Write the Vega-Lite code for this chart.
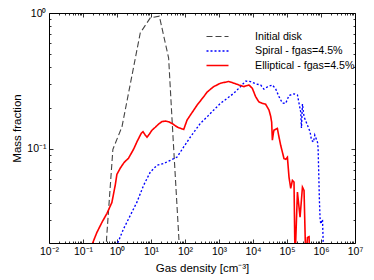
{
  "$schema": "https://vega.github.io/schema/vega-lite/v6.json",
  "width": 306,
  "height": 230,
  "autosize": "none",
  "padding": {"left": 49, "top": 13, "right": 19, "bottom": 37},
  "config": {
    "view": {"stroke": "black", "strokeWidth": 1},
    "font": "Liberation Sans",
    "axis": {"domain": false, "grid": false, "tickColor": "black", "labelColor": "black", "titleColor": "black", "labelFont": "Liberation Sans", "titleFont": "Liberation Sans", "titleFontWeight": "normal", "labelFontSize": 10.5, "titleFontSize": 11.5, "labelOverlap": false, "labelFlush": false, "labelBound": false, "tickWidth": 0.8}
  },
  "datasets": {
    "curves": [
      {"series": "Initial disk", "density": 0.474, "fraction": 0.0177},
      {"series": "Initial disk", "density": 0.50, "fraction": 0.0229},
      {"series": "Initial disk", "density": 0.757, "fraction": 0.099},
      {"series": "Initial disk", "density": 1.40, "fraction": 0.145},
      {"series": "Initial disk", "density": 4.83, "fraction": 0.713},
      {"series": "Initial disk", "density": 9.53, "fraction": 0.921},
      {"series": "Initial disk", "density": 17.6, "fraction": 0.947},
      {"series": "Initial disk", "density": 33.0, "fraction": 0.466},
      {"series": "Initial disk", "density": 44.6, "fraction": 0.120},
      {"series": "Initial disk", "density": 65.2, "fraction": 0.0231},
      {"series": "Initial disk", "density": 69.3, "fraction": 0.0177},

      {"series": "Spiral - fgas=4.5%", "density": 0.946, "fraction": 0.019},
      {"series": "Spiral - fgas=4.5%", "density": 1.556, "fraction": 0.02564},
      {"series": "Spiral - fgas=4.5%", "density": 2.45, "fraction": 0.0322},
      {"series": "Spiral - fgas=4.5%", "density": 3.86, "fraction": 0.0404},
      {"series": "Spiral - fgas=4.5%", "density": 6.05, "fraction": 0.0537},
      {"series": "Spiral - fgas=4.5%", "density": 9.53, "fraction": 0.0673},
      {"series": "Spiral - fgas=4.5%", "density": 15.0, "fraction": 0.0755},
      {"series": "Spiral - fgas=4.5%", "density": 23.5, "fraction": 0.0777},
      {"series": "Spiral - fgas=4.5%", "density": 37.1, "fraction": 0.0822},
      {"series": "Spiral - fgas=4.5%", "density": 58.5, "fraction": 0.0869},
      {"series": "Spiral - fgas=4.5%", "density": 91.6, "fraction": 0.103},
      {"series": "Spiral - fgas=4.5%", "density": 144, "fraction": 0.122},
      {"series": "Spiral - fgas=4.5%", "density": 284, "fraction": 0.154},
      {"series": "Spiral - fgas=4.5%", "density": 449, "fraction": 0.172},
      {"series": "Spiral - fgas=4.5%", "density": 703, "fraction": 0.193},
      {"series": "Spiral - fgas=4.5%", "density": 1107, "fraction": 0.216},
      {"series": "Spiral - fgas=4.5%", "density": 1746, "fraction": 0.235},
      {"series": "Spiral - fgas=4.5%", "density": 2735, "fraction": 0.2565},
      {"series": "Spiral - fgas=4.5%", "density": 4306, "fraction": 0.287},
      {"series": "Spiral - fgas=4.5%", "density": 6053, "fraction": 0.315},
      {"series": "Spiral - fgas=4.5%", "density": 8492, "fraction": 0.3126},
      {"series": "Spiral - fgas=4.5%", "density": 11930, "fraction": 0.3006},
      {"series": "Spiral - fgas=4.5%", "density": 16750, "fraction": 0.295},
      {"series": "Spiral - fgas=4.5%", "density": 20990, "fraction": 0.2746},
      {"series": "Spiral - fgas=4.5%", "density": 27540, "fraction": 0.287},
      {"series": "Spiral - fgas=4.5%", "density": 37100, "fraction": 0.295},
      {"series": "Spiral - fgas=4.5%", "density": 46450, "fraction": 0.276},
      {"series": "Spiral - fgas=4.5%", "density": 58100, "fraction": 0.242},
      {"series": "Spiral - fgas=4.5%", "density": 73100, "fraction": 0.217},
      {"series": "Spiral - fgas=4.5%", "density": 91600, "fraction": 0.216},
      {"series": "Spiral - fgas=4.5%", "density": 114600, "fraction": 0.247},
      {"series": "Spiral - fgas=4.5%", "density": 160800, "fraction": 0.2535},
      {"series": "Spiral - fgas=4.5%", "density": 202800, "fraction": 0.249},
      {"series": "Spiral - fgas=4.5%", "density": 226000, "fraction": 0.216},
      {"series": "Spiral - fgas=4.5%", "density": 253600, "fraction": 0.186},
      {"series": "Spiral - fgas=4.5%", "density": 266000, "fraction": 0.142},
      {"series": "Spiral - fgas=4.5%", "density": 284600, "fraction": 0.2136},
      {"series": "Spiral - fgas=4.5%", "density": 317000, "fraction": 0.172},
      {"series": "Spiral - fgas=4.5%", "density": 399700, "fraction": 0.149},
      {"series": "Spiral - fgas=4.5%", "density": 477500, "fraction": 0.133},
      {"series": "Spiral - fgas=4.5%", "density": 524800, "fraction": 0.1156},
      {"series": "Spiral - fgas=4.5%", "density": 601000, "fraction": 0.112},
      {"series": "Spiral - fgas=4.5%", "density": 656000, "fraction": 0.126},
      {"series": "Spiral - fgas=4.5%", "density": 788800, "fraction": 0.1117},
      {"series": "Spiral - fgas=4.5%", "density": 822200, "fraction": 0.1009},
      {"series": "Spiral - fgas=4.5%", "density": 861000, "fraction": 0.0636},
      {"series": "Spiral - fgas=4.5%", "density": 897400, "fraction": 0.0416},
      {"series": "Spiral - fgas=4.5%", "density": 940000, "fraction": 0.0306},
      {"series": "Spiral - fgas=4.5%", "density": 986300, "fraction": 0.0279},
      {"series": "Spiral - fgas=4.5%", "density": 1107000, "fraction": 0.0301},
      {"series": "Spiral - fgas=4.5%", "density": 1153000, "fraction": 0.0217},
      {"series": "Spiral - fgas=4.5%", "density": 1186000, "fraction": 0.015},

      {"series": "Elliptical - fgas=4.5%", "density": 0.1675, "fraction": 0.0177},
      {"series": "Elliptical - fgas=4.5%", "density": 0.189, "fraction": 0.01995},
      {"series": "Elliptical - fgas=4.5%", "density": 0.255, "fraction": 0.0241},
      {"series": "Elliptical - fgas=4.5%", "density": 0.359, "fraction": 0.0286},
      {"series": "Elliptical - fgas=4.5%", "density": 0.504, "fraction": 0.0333},
      {"series": "Elliptical - fgas=4.5%", "density": 0.708, "fraction": 0.0402},
      {"series": "Elliptical - fgas=4.5%", "density": 0.885, "fraction": 0.0537},
      {"series": "Elliptical - fgas=4.5%", "density": 0.993, "fraction": 0.0647},
      {"series": "Elliptical - fgas=4.5%", "density": 1.242, "fraction": 0.0718},
      {"series": "Elliptical - fgas=4.5%", "density": 1.63, "fraction": 0.0794},
      {"series": "Elliptical - fgas=4.5%", "density": 2.18, "fraction": 0.0851},
      {"series": "Elliptical - fgas=4.5%", "density": 3.07, "fraction": 0.0991},
      {"series": "Elliptical - fgas=4.5%", "density": 3.94, "fraction": 0.1137},
      {"series": "Elliptical - fgas=4.5%", "density": 5.18, "fraction": 0.130},
      {"series": "Elliptical - fgas=4.5%", "density": 5.81, "fraction": 0.1336},
      {"series": "Elliptical - fgas=4.5%", "density": 6.79, "fraction": 0.1259},
      {"series": "Elliptical - fgas=4.5%", "density": 7.62, "fraction": 0.1217},
      {"series": "Elliptical - fgas=4.5%", "density": 8.91, "fraction": 0.128},
      {"series": "Elliptical - fgas=4.5%", "density": 10.7, "fraction": 0.137},
      {"series": "Elliptical - fgas=4.5%", "density": 13.4, "fraction": 0.144},
      {"series": "Elliptical - fgas=4.5%", "density": 16.8, "fraction": 0.152},
      {"series": "Elliptical - fgas=4.5%", "density": 21.1, "fraction": 0.1585},
      {"series": "Elliptical - fgas=4.5%", "density": 26.4, "fraction": 0.160},
      {"series": "Elliptical - fgas=4.5%", "density": 33.0, "fraction": 0.158},
      {"series": "Elliptical - fgas=4.5%", "density": 42.5, "fraction": 0.153},
      {"series": "Elliptical - fgas=4.5%", "density": 52.1, "fraction": 0.1476},
      {"series": "Elliptical - fgas=4.5%", "density": 63.8, "fraction": 0.143},
      {"series": "Elliptical - fgas=4.5%", "density": 91.6, "fraction": 0.1387},
      {"series": "Elliptical - fgas=4.5%", "density": 115, "fraction": 0.1626},
      {"series": "Elliptical - fgas=4.5%", "density": 144, "fraction": 0.177},
      {"series": "Elliptical - fgas=4.5%", "density": 228, "fraction": 0.210},
      {"series": "Elliptical - fgas=4.5%", "density": 356, "fraction": 0.242},
      {"series": "Elliptical - fgas=4.5%", "density": 449, "fraction": 0.262},
      {"series": "Elliptical - fgas=4.5%", "density": 703, "fraction": 0.287},
      {"series": "Elliptical - fgas=4.5%", "density": 1107, "fraction": 0.304},
      {"series": "Elliptical - fgas=4.5%", "density": 1945, "fraction": 0.313},
      {"series": "Elliptical - fgas=4.5%", "density": 2735, "fraction": 0.304},
      {"series": "Elliptical - fgas=4.5%", "density": 3837, "fraction": 0.295},
      {"series": "Elliptical - fgas=4.5%", "density": 5395, "fraction": 0.287},
      {"series": "Elliptical - fgas=4.5%", "density": 7568, "fraction": 0.295},
      {"series": "Elliptical - fgas=4.5%", "density": 9530, "fraction": 0.279},
      {"series": "Elliptical - fgas=4.5%", "density": 11930, "fraction": 0.242},
      {"series": "Elliptical - fgas=4.5%", "density": 14930, "fraction": 0.221},
      {"series": "Elliptical - fgas=4.5%", "density": 19190, "fraction": 0.2155},
      {"series": "Elliptical - fgas=4.5%", "density": 23550, "fraction": 0.2125},
      {"series": "Elliptical - fgas=4.5%", "density": 29450, "fraction": 0.193},
      {"series": "Elliptical - fgas=4.5%", "density": 33040, "fraction": 0.174},
      {"series": "Elliptical - fgas=4.5%", "density": 35400, "fraction": 0.157},
      {"series": "Elliptical - fgas=4.5%", "density": 37100, "fraction": 0.1156},
      {"series": "Elliptical - fgas=4.5%", "density": 39700, "fraction": 0.130},
      {"series": "Elliptical - fgas=4.5%", "density": 41400, "fraction": 0.137},
      {"series": "Elliptical - fgas=4.5%", "density": 52100, "fraction": 0.141},
      {"series": "Elliptical - fgas=4.5%", "density": 58100, "fraction": 0.122},
      {"series": "Elliptical - fgas=4.5%", "density": 65200, "fraction": 0.106},
      {"series": "Elliptical - fgas=4.5%", "density": 81600, "fraction": 0.0846},
      {"series": "Elliptical - fgas=4.5%", "density": 91600, "fraction": 0.0836},
      {"series": "Elliptical - fgas=4.5%", "density": 102800, "fraction": 0.0865},
      {"series": "Elliptical - fgas=4.5%", "density": 114600, "fraction": 0.0618},
      {"series": "Elliptical - fgas=4.5%", "density": 128600, "fraction": 0.0510},
      {"series": "Elliptical - fgas=4.5%", "density": 144300, "fraction": 0.0585},
      {"series": "Elliptical - fgas=4.5%", "density": 160800, "fraction": 0.0568},
      {"series": "Elliptical - fgas=4.5%", "density": 172200, "fraction": 0.015},
      {"series": "Elliptical - fgas=4.5%", "density": 202800, "fraction": 0.0479},
      {"series": "Elliptical - fgas=4.5%", "density": 242100, "fraction": 0.0313},
      {"series": "Elliptical - fgas=4.5%", "density": 284600, "fraction": 0.0521},
      {"series": "Elliptical - fgas=4.5%", "density": 317000, "fraction": 0.0493},
      {"series": "Elliptical - fgas=4.5%", "density": 356200, "fraction": 0.015},
      {"series": "Elliptical - fgas=4.5%", "density": 399700, "fraction": 0.0222},
      {"series": "Elliptical - fgas=4.5%", "density": 445700, "fraction": 0.0225},
      {"series": "Elliptical - fgas=4.5%", "density": 468000, "fraction": 0.015}
    ]
  },
  "data": {"name": "curves"},
  "layer": [
    {
      "mark": {"type": "line", "clip": true},
      "encoding": {
        "x": {
          "field": "density", "type": "quantitative",
          "scale": {"type": "log", "domain": [0.01, 10000000]},
          "axis": {
            "orient": "bottom",
            "title": "Gas density [cm⁻³]",
            "titlePadding": 4,
            "values": [0.01,0.02,0.03,0.04,0.05,0.06,0.07,0.08,0.09,0.1,0.2,0.3,0.4,0.5,0.6,0.7,0.8,0.9,1,2,3,4,5,6,7,8,9,10,20,30,40,50,60,70,80,90,100,200,300,400,500,600,700,800,900,1000,2000,3000,4000,5000,6000,7000,8000,9000,10000,20000,30000,40000,50000,60000,70000,80000,90000,100000,200000,300000,400000,500000,600000,700000,800000,900000,1000000,2000000,3000000,4000000,5000000,6000000,7000000,8000000,9000000,10000000],
            "labelExpr": "['10⁻²','10⁻¹','10⁰','10¹','10²','10³','10⁴','10⁵','10⁶','10⁷'][indexof([0.01,0.1,1,10,100,1000,10000,100000,1000000,10000000], datum.value)] || ''",
            "tickSize": {"condition": {"test": "indexof([0.01,0.1,1,10,100,1000,10000,100000,1000000,10000000], datum.value) >= 0", "value": -4}, "value": -2},
            "labelPadding": 7
          }
        },
        "y": {
          "field": "fraction", "type": "quantitative",
          "scale": {"type": "log", "domain": [0.0202, 1]},
          "axis": {
            "orient": "left",
            "title": "Mass fraction",
            "titlePadding": 4,
            "values": [0.03,0.04,0.05,0.06,0.07,0.08,0.09,0.1,0.2,0.3,0.4,0.5,0.6,0.7,0.8,0.9,1],
            "labelExpr": "datum.value == 1 ? '10⁰' : (datum.value == 0.1 ? '10⁻¹' : '')",
            "tickSize": {"condition": {"test": "datum.value == 1 || datum.value == 0.1", "value": -4}, "value": -2},
            "labelPadding": 7
          }
        },
        "color": {
          "field": "series", "type": "nominal",
          "scale": {"domain": ["Initial disk", "Spiral - fgas=4.5%", "Elliptical - fgas=4.5%"], "range": ["#444444", "#0000ff", "#ff0000"]},
          "legend": {
            "title": null, "orient": "none", "legendX": 162, "legendY": 17,
            "symbolType": "M-2,0L2,0", "symbolSize": 121, "symbolStrokeWidth": 1.5,
            "labelFont": "Liberation Sans", "labelFontSize": 10.7, "labelColor": "black",
            "labelOffset": 31, "rowPadding": 2.5, "padding": 0, "labelLimit": 300
          }
        },
        "strokeDash": {
          "field": "series", "type": "nominal",
          "scale": {"domain": ["Initial disk", "Spiral - fgas=4.5%", "Elliptical - fgas=4.5%"], "range": [[6, 3], [2, 2], [1, 0]]},
          "legend": {
            "title": null, "orient": "none", "legendX": 162, "legendY": 17,
            "symbolType": "M-2,0L2,0", "symbolSize": 121, "symbolStrokeWidth": 1.5,
            "labelFont": "Liberation Sans", "labelFontSize": 10.7, "labelColor": "black",
            "labelOffset": 31, "rowPadding": 2.5, "padding": 0, "labelLimit": 300
          }
        },
        "strokeWidth": {
          "field": "series", "type": "nominal",
          "scale": {"domain": ["Initial disk", "Spiral - fgas=4.5%", "Elliptical - fgas=4.5%"], "range": [1.1, 1.6, 1.5]},
          "legend": null
        }
      }
    },
    {
      "mark": {"type": "point", "opacity": 0},
      "encoding": {
        "x": {
          "field": "density", "type": "quantitative",
          "scale": {"type": "log", "domain": [0.01, 10000000]},
          "axis": {
            "orient": "top", "title": null, "labels": false,
            "values": [0.01,0.02,0.03,0.04,0.05,0.06,0.07,0.08,0.09,0.1,0.2,0.3,0.4,0.5,0.6,0.7,0.8,0.9,1,2,3,4,5,6,7,8,9,10,20,30,40,50,60,70,80,90,100,200,300,400,500,600,700,800,900,1000,2000,3000,4000,5000,6000,7000,8000,9000,10000,20000,30000,40000,50000,60000,70000,80000,90000,100000,200000,300000,400000,500000,600000,700000,800000,900000,1000000,2000000,3000000,4000000,5000000,6000000,7000000,8000000,9000000,10000000],
            "tickSize": {"condition": {"test": "indexof([0.01,0.1,1,10,100,1000,10000,100000,1000000,10000000], datum.value) >= 0", "value": -4}, "value": -2}
          }
        },
        "y": {
          "field": "fraction", "type": "quantitative",
          "scale": {"type": "log", "domain": [0.0202, 1]},
          "axis": {
            "orient": "right", "title": null, "labels": false,
            "values": [0.03,0.04,0.05,0.06,0.07,0.08,0.09,0.1,0.2,0.3,0.4,0.5,0.6,0.7,0.8,0.9,1],
            "tickSize": {"condition": {"test": "datum.value == 1 || datum.value == 0.1", "value": -4}, "value": -2}
          }
        }
      }
    }
  ],
  "resolve": {"axis": {"x": "independent", "y": "independent"}}
}
